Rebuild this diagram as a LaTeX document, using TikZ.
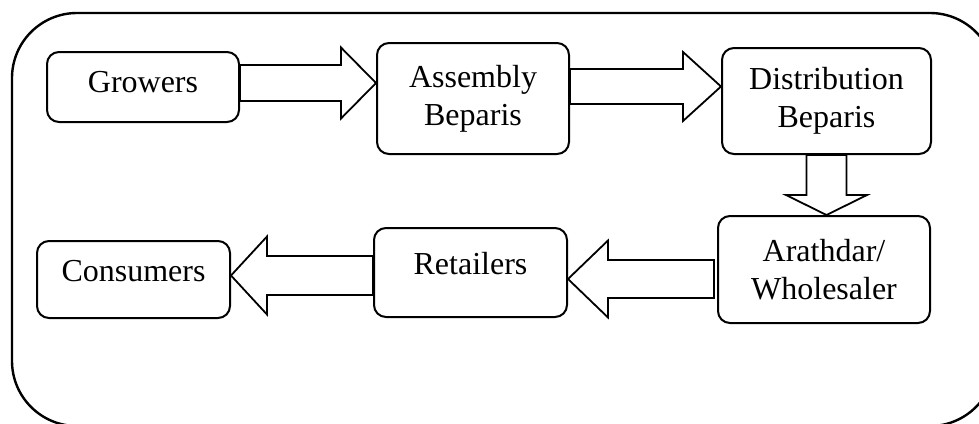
\documentclass[tikz,border=0pt]{standalone}
\usepackage{fontspec}
\setmainfont{Liberation Serif}
\usetikzlibrary{calc}

% hollow block arrow: start, tip, half shaft, half head, head length (px)
\newcommand{\blockarrow}[5]{%
  \draw[flow] let \p1=(#1), \p2=(#2),
      \n1={atan2(\y2-\y1,\x2-\x1)}, \n2={veclen(\x2-\x1,\y2-\y1)} in
    [shift={(\p1)}, rotate=\n1]
    (0pt,{#3*0.5pt}) -- ({\n2*1pt-#5*0.5pt},{#3*0.5pt})
    -- ({\n2*1pt-#5*0.5pt},{#4*0.5pt}) -- ({\n2*1pt},0pt)
    -- ({\n2*1pt-#5*0.5pt},{-#4*0.5pt}) -- ({\n2*1pt-#5*0.5pt},{-#3*0.5pt})
    -- (0pt,{-#3*0.5pt}) -- cycle;
}

\begin{document}
\begin{tikzpicture}[x=0.5pt, y=-0.5pt,
    stage/.style={draw, line width=1pt, rounded corners=6pt, align=center,
      inner sep=0pt, font=\fontsize{16}{19}\selectfont},
    flow/.style={line width=0.9pt, line join=miter}]

\useasboundingbox (0,0) rectangle (979,423);
\clip (0,0) rectangle (979,423);

% -----------------------------
% Outer frame
% -----------------------------
\draw[line width=1.2pt, rounded corners=32.5pt] (12,13) rectangle (995,426);

% -----------------------------
% Stages (top row, then bottom row)
% -----------------------------
\node[stage, minimum width=96pt, minimum height=35pt, text depth=5pt]
  (grow) at (143,87) {Growers};
\node[stage, minimum width=96pt, minimum height=55.5pt]
  (asm) at (473,98.5) {Assembly\\Beparis};
\node[stage, minimum width=104.5pt, minimum height=53pt]
  (dist) at (826.5,101) {Distribution\\Beparis};

\node[stage, minimum width=106pt, minimum height=53.5pt]
  (arath) at (824,269.5) {Arathdar/\\Wholesaler};
\node[stage, minimum width=96.5pt, minimum height=44.5pt, text depth=9.5pt]
  (ret) at (470.5,272.5) {Retailers};
\node[stage, minimum width=96.5pt, minimum height=38.5pt, text depth=8.5pt]
  (cons) at (133.5,279.5) {Consumers};

% -----------------------------
% Block arrows
% -----------------------------
\blockarrow{grow.east |- 0,83}{asm.west |- 0,83}{18}{35.5}{35}
\blockarrow{asm.east |- 0,86.5}{dist.west |- 0,86.5}{17.5}{34.5}{38}
\blockarrow{dist.south}{dist.south |- arath.north}{20}{40.5}{20}
\blockarrow{$(arath.west |- 0,279)+(-3,0)$}{ret.east |- 0,279}{19}{38.5}{40}
\blockarrow{ret.west |- 0,275.5}{cons.east |- 0,275.5}{19.5}{39}{36}

\end{tikzpicture}
\end{document}
